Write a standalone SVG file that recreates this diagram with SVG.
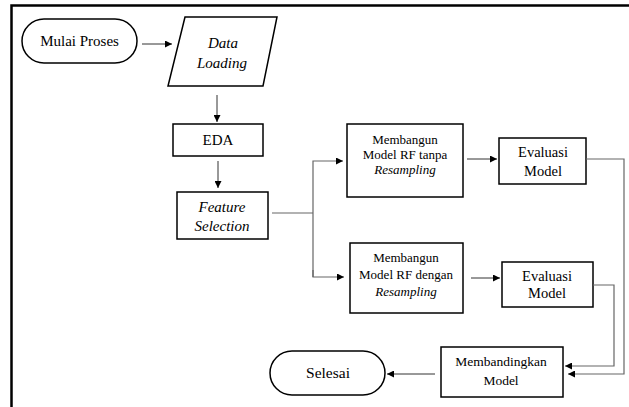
<svg xmlns="http://www.w3.org/2000/svg" width="629" height="407" viewBox="0 0 629 407">
  <style>
    .box { fill: #fff; stroke: #000; stroke-width: 1.5; }
    text { font-family: 'Liberation Serif', Tinos, 'Times New Roman', 'DejaVu Serif', serif; fill: #000; text-anchor: middle; }
    .i { font-style: italic; }
    .ln { fill: none; stroke: #333; stroke-width: 1; }
    .lg { fill: none; stroke: #666; stroke-width: 1.2; }
  </style>
  <defs>
    <marker id="ah" viewBox="0 0 10 10" refX="10" refY="5" markerWidth="8" markerHeight="7" markerUnits="userSpaceOnUse" orient="auto">
      <path d="M0,0 L10,5 L0,10 z" fill="#000"/>
    </marker>
  </defs>

  <rect width="629" height="407" fill="#fff"/>
  <!-- page frame -->
  <path d="M11.5,407 V5.5 H629" fill="none" stroke="#000" stroke-width="2.5"/>

  <g id="mulai">
    <rect class="box" x="22" y="19" width="115" height="44" rx="22"/>
    <text x="79.5" y="46" font-size="15">Mulai Proses</text>
  </g>

  <g id="data-loading">
    <polygon class="box" points="185,17 277,17 263,86 168,86"/>
    <text class="i" x="223" y="48" font-size="15">Data</text>
    <text class="i" x="222" y="68" font-size="15">Loading</text>
  </g>

  <g id="eda">
    <rect class="box" x="173" y="124" width="90" height="32"/>
    <text x="218" y="145" font-size="15">EDA</text>
  </g>

  <g id="feature-selection">
    <rect class="box" x="177" y="192" width="91" height="47"/>
    <text class="i" x="222" y="212" font-size="15">Feature</text>
    <text class="i" x="222" y="231" font-size="15">Selection</text>
  </g>

  <g id="rf-tanpa">
    <rect class="box" x="347" y="124" width="116" height="73"/>
    <text x="405" y="144" font-size="13">Membangun</text>
    <text x="405" y="159" font-size="13">Model RF tanpa</text>
    <text class="i" x="405" y="174" font-size="13">Resampling</text>
  </g>

  <g id="eval-1">
    <rect class="box" x="499" y="138" width="87" height="46"/>
    <text x="543" y="157" font-size="14.5">Evaluasi</text>
    <text x="543" y="176" font-size="14.5">Model</text>
  </g>

  <g id="rf-dengan">
    <rect class="box" x="350" y="243" width="113" height="70"/>
    <text x="406" y="262" font-size="13">Membangun</text>
    <text x="406" y="279" font-size="13">Model RF dengan</text>
    <text class="i" x="406" y="296" font-size="13">Resampling</text>
  </g>

  <g id="eval-2">
    <rect class="box" x="502" y="262" width="91" height="45"/>
    <text x="547" y="281" font-size="14.5">Evaluasi</text>
    <text x="547" y="298" font-size="14.5">Model</text>
  </g>

  <g id="membandingkan">
    <rect class="box" x="441" y="347" width="122" height="50"/>
    <text x="501" y="366" font-size="13.5">Membandingkan</text>
    <text x="501" y="385" font-size="13.5">Model</text>
  </g>

  <g id="selesai">
    <rect class="box" x="270" y="351" width="115" height="44" rx="22"/>
    <text x="328" y="378" font-size="15.5">Selesai</text>
  </g>

  <g id="connectors">
    <line class="ln" x1="142" y1="44" x2="172" y2="44" marker-end="url(#ah)"/>
    <line class="ln" x1="217" y1="95" x2="217" y2="122" marker-end="url(#ah)"/>
    <line class="ln" x1="218" y1="161" x2="218" y2="188" marker-end="url(#ah)"/>
    <polyline class="lg" points="272,213 313,213"/>
    <polyline class="lg" points="313,277 313,161 343,161" marker-end="url(#ah)"/>
    <polyline class="lg" points="313,270 313,277 344,277" marker-end="url(#ah)"/>
    <line class="ln" x1="467" y1="159" x2="497" y2="159" marker-end="url(#ah)"/>
    <line class="ln" x1="471" y1="278" x2="500" y2="278" marker-end="url(#ah)"/>
    <polyline class="lg" points="586,159 624,159 624,374 568,374" marker-end="url(#ah)"/>
    <polyline class="lg" points="593,285 614,285 614,366 565,366" marker-end="url(#ah)"/>
    <line class="ln" x1="435" y1="374" x2="387" y2="374" marker-end="url(#ah)"/>
  </g>
</svg>
